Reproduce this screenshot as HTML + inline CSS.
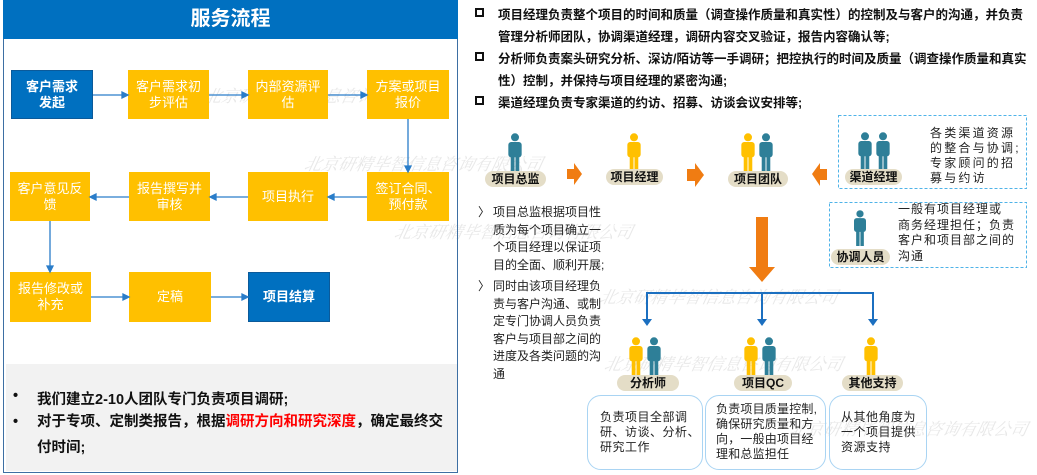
<!DOCTYPE html>
<html><head><meta charset="utf-8"><style>
*{margin:0;padding:0;box-sizing:border-box}
body{width:1037px;height:475px;background:#fff;position:relative;overflow:hidden;font-family:"Liberation Sans","Noto Sans CJK SC",sans-serif;}
.a{position:absolute}
.wm{position:absolute;color:#e8e8e8;font-family:"Noto Serif CJK SC",serif;font-style:italic;font-size:17px;white-space:nowrap;transform:skewX(-12deg)}
.bx{position:absolute;display:flex;align-items:center;justify-content:center;text-align:center;color:#fff;font-size:13px;line-height:16px;background:#ffc000}
.bl{background:#0070c0;font-weight:bold;border:1px solid #0b5a9a}
.lbl{position:absolute;background:#e4ddc7;border-radius:9px;font-weight:bold;font-size:12px;text-align:center;color:#111;height:16px;line-height:16px}
.rt{position:absolute;left:498px;font-size:12.5px;font-weight:bold;color:#111;white-space:nowrap}
.sq{position:absolute;left:475px;width:9px;height:9px;border:2px solid #111}
.pt{position:absolute;font-size:12px;color:#222;line-height:17.5px}
.rb{position:absolute;border:1.5px solid #a9d4f3;border-radius:14px;font-size:12px;color:#222;line-height:15px;letter-spacing:0.5px;white-space:nowrap}
</style></head><body>
<svg width="0" height="0" style="position:absolute"><defs>
<symbol id="py" viewBox="0 0 16 42"><circle cx="8" cy="4.5" r="4.2" fill="#ffc000"/><rect x="1" y="9.5" width="14" height="16" rx="3" fill="#ffc000"/><rect x="3.5" y="22" width="4" height="20" fill="#ffc000"/><rect x="8.5" y="22" width="4" height="20" fill="#ffc000"/></symbol>
<symbol id="pt" viewBox="0 0 16 42"><circle cx="8" cy="4.5" r="4.2" fill="#2e7f98"/><rect x="1" y="9.5" width="14" height="16" rx="3" fill="#2e7f98"/><rect x="3.5" y="22" width="4" height="20" fill="#2e7f98"/><rect x="8.5" y="22" width="4" height="20" fill="#2e7f98"/></symbol>
</defs></svg>

<div class="wm" style="left:205px;top:82px">北京研精毕智信息咨询有限公司</div>
<div class="wm" style="left:305px;top:150px">北京研精毕智信息咨询有限公司</div>
<div class="wm" style="left:395px;top:218px">北京研精毕智信息咨询有限公司</div>
<div class="wm" style="left:600px;top:283px">北京研精毕智信息咨询有限公司</div>
<div class="wm" style="left:605px;top:350px">北京研精毕智信息咨询有限公司</div>
<div class="wm" style="left:790px;top:415px">北京研精毕智信息咨询有限公司</div>

<!-- left panel -->
<div class="a" style="left:3px;top:0;width:455px;height:473px;border:1.5px solid #3d6fa3"></div>
<div class="a" style="left:3px;top:0;width:455px;height:39px;background:#0070c0;color:#fff;font-weight:bold;font-size:20px;text-align:center;line-height:39px">服务流程</div>

<div class="bx bl" style="left:11px;top:70px;width:82px;height:49px">客户需求<br>发起</div>
<div class="bx" style="left:128px;top:70px;width:81px;height:49px">客户需求初<br>步评估</div>
<div class="bx" style="left:248px;top:70px;width:80px;height:49px">内部资源评<br>估</div>
<div class="bx" style="left:367px;top:70px;width:82px;height:49px">方案或项目<br>报价</div>
<div class="bx" style="left:10px;top:172px;width:80px;height:49px">客户意见反<br>馈</div>
<div class="bx" style="left:129px;top:172px;width:81px;height:49px">报告撰写并<br>审核</div>
<div class="bx" style="left:248px;top:172px;width:80px;height:49px">项目执行</div>
<div class="bx" style="left:367px;top:172px;width:82px;height:49px">签订合同、<br>预付款</div>
<div class="bx" style="left:10px;top:272px;width:81px;height:50px">报告修改或<br>补充</div>
<div class="bx" style="left:129px;top:272px;width:82px;height:50px">定稿</div>
<div class="bx bl" style="left:248px;top:272px;width:82px;height:50px">项目结算</div>

<svg class="a" style="left:0;top:0" width="460" height="340">
<g stroke="#2a7dc9" stroke-width="1.3" fill="#2a7dc9">
<line x1="93" y1="95" x2="123" y2="95"/><polygon points="128,95 122,92 122,98"/>
<line x1="209" y1="95" x2="243" y2="95"/><polygon points="248,95 242,92 242,98"/>
<line x1="328" y1="95" x2="362" y2="95"/><polygon points="367,95 361,92 361,98"/>
<line x1="408" y1="119" x2="408" y2="167"/><polygon points="408,172 405,166 411,166"/>
<line x1="367" y1="197" x2="334" y2="197"/><polygon points="328,197 334,194 334,200"/>
<line x1="248" y1="197" x2="215" y2="197"/><polygon points="210,197 216,194 216,200"/>
<line x1="129" y1="197" x2="96" y2="197"/><polygon points="90,197 96,194 96,200"/>
<line x1="50" y1="221" x2="50" y2="267"/><polygon points="50,272 47,266 53,266"/>
<line x1="91" y1="297" x2="124" y2="297"/><polygon points="129,297 123,294 123,300"/>
<line x1="211" y1="297" x2="243" y2="297"/><polygon points="248,297 242,294 242,300"/>
</g></svg>

<div class="a" style="left:6px;top:364px;width:451px;height:107px;background:#f2f2f2"></div>
<div class="a" style="left:13px;top:388px;font-size:14.5px;font-weight:bold;color:#111">•</div>
<div class="a" style="left:37px;top:388px;font-size:14.5px;font-weight:bold;color:#111;white-space:nowrap">我们建立2-10人团队专门负责项目调研;</div>
<div class="a" style="left:13px;top:414px;font-size:14.5px;font-weight:bold;color:#111">•</div>
<div class="a" style="left:37px;top:414px;font-size:14.5px;font-weight:bold;color:#111;white-space:nowrap;line-height:26px;margin-top:-5px">对于专项、定制类报告，根据<span style="color:#f00">调研方向和研究深度</span>，确定最终交<br>付时间;</div>

<!-- right top -->
<div class="sq" style="top:8px"></div><div class="rt" style="top:4px">项目经理负责整个项目的时间和质量（调查操作质量和真实性）的控制及与客户的沟通，并负责</div>
<div class="rt" style="top:26px">管理分析师团队，协调渠道经理，调研内容交叉验证，报告内容确认等;</div>
<div class="sq" style="top:52px"></div><div class="rt" style="top:48px">分析师负责案头研究分析、深访/陌访等一手调研；把控执行的时间及质量（调查操作质量和真实</div>
<div class="rt" style="top:70px">性）控制，并保持与项目经理的紧密沟通;</div>
<div class="sq" style="top:96px"></div><div class="rt" style="top:92px">渠道经理负责专家渠道的约访、招募、访谈会议安排等;</div>

<!-- persons row -->
<svg class="a" style="left:507px;top:133px" width="16" height="40"><use href="#pt"/></svg>
<div class="lbl" style="left:485px;top:171px;width:61px">项目总监</div>
<svg class="a" style="left:626px;top:133px" width="16" height="40"><use href="#py"/></svg>
<div class="lbl" style="left:606px;top:169px;width:57px">项目经理</div>
<svg class="a" style="left:740px;top:133px" width="16" height="40"><use href="#py"/></svg>
<svg class="a" style="left:758px;top:133px" width="16" height="40"><use href="#pt"/></svg>
<div class="lbl" style="left:728px;top:171px;width:60px">项目团队</div>

<svg class="a" style="left:0;top:0" width="1037" height="475">
<g fill="#f07c12">
<polygon points="567,169 574,169 574,163 582,174 574,185 574,179 567,179"/>
<polygon points="687,169 695,169 695,163 704,175 695,187 695,181 687,181"/>
<polygon points="827,169 820,169 820,163 812,174 820,186 820,180 827,180"/>
<polygon points="756,217 768,217 768,267 775,267 762,282 749,267 756,267"/>
</g>
<g stroke="#1b6fc0" stroke-width="2" fill="none">
<polyline points="647,320 647,293 873,293 873,320"/><line x1="762" y1="293" x2="762" y2="320"/>
</g>
<g fill="#1b6fc0">
<polygon points="642,319 652,319 647,326"/><polygon points="757,319 767,319 762,326"/><polygon points="868,319 878,319 873,326"/>
</g>
<rect x="838.5" y="115.5" width="188" height="73" fill="none" stroke="#4fb3e8" stroke-width="1" stroke-dasharray="3,2"/>
<rect x="829.5" y="202.5" width="197" height="65" fill="none" stroke="#4fb3e8" stroke-width="1" stroke-dasharray="3,2"/>
</svg>

<svg class="a" style="left:857px;top:132px" width="16" height="40"><use href="#pt"/></svg>
<svg class="a" style="left:875px;top:132px" width="16" height="40"><use href="#pt"/></svg>
<div class="lbl" style="left:845px;top:169px;width:57px">渠道经理</div>
<div class="a" style="left:930px;top:126px;font-size:12px;line-height:15px;letter-spacing:2.2px;color:#222;white-space:nowrap">各类渠道资源<br>的整合与协调;<br>专家顾问的招<br>募与约访</div>

<svg class="a" style="left:852px;top:210px" width="16" height="36"><use href="#pt"/></svg>
<div class="lbl" style="left:831px;top:249px;width:59px">协调人员</div>
<div class="a" style="left:898px;top:202px;font-size:12px;line-height:15.5px;letter-spacing:1px;color:#222;white-space:nowrap">一般有项目经理或<br>商务经理担任；负责<br>客户和项目部之间的<br>沟通</div>

<!-- left text -->
<div class="pt" style="left:478px;top:204px">〉</div>
<div class="pt" style="left:493px;top:204px">项目总监根据项目性<br>质为每个项目确立一<br>个项目经理以保证项<br>目的全面、顺利开展;</div>
<div class="pt" style="left:478px;top:278px">〉</div>
<div class="pt" style="left:493px;top:278px">同时由该项目经理负<br>责与客户沟通、或制<br>定专门协调人员负责<br>客户与项目部之间的<br>进度及各类问题的沟<br>通</div>

<!-- bottom persons -->
<svg class="a" style="left:628px;top:337px" width="16" height="40"><use href="#py"/></svg>
<svg class="a" style="left:646px;top:337px" width="16" height="40"><use href="#pt"/></svg>
<div class="lbl" style="left:617px;top:375px;width:62px">分析师</div>
<svg class="a" style="left:743px;top:337px" width="16" height="40"><use href="#py"/></svg>
<svg class="a" style="left:761px;top:337px" width="16" height="40"><use href="#pt"/></svg>
<div class="lbl" style="left:734px;top:375px;width:58px">项目QC</div>
<svg class="a" style="left:863px;top:337px" width="16" height="40"><use href="#py"/></svg>
<div class="lbl" style="left:842px;top:375px;width:61px">其他支持</div>

<div class="rb" style="left:587px;top:395px;width:116px;height:75px;padding:14px 0 0 12px">负责项目全部调<br>研、访谈、分析、<br>研究工作</div>
<div class="rb" style="left:705px;top:395px;width:121px;height:75px;padding:6px 0 0 10px;letter-spacing:0.2px">负责项目质量控制,<br>确保研究质量和方<br>向，一般由项目经<br>理和总监担任</div>
<div class="rb" style="left:829px;top:395px;width:98px;height:75px;padding:14px 0 0 11px">从其他角度为<br>一个项目提供<br>资源支持</div>
</body></html>
